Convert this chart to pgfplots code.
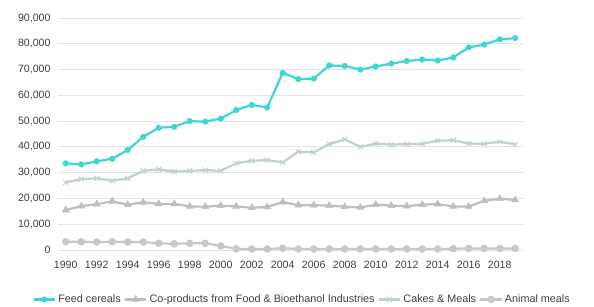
\documentclass[border=0pt]{standalone}
\usepackage{pgfplots}
\pgfplotsset{compat=1.18}
\usepackage{fontspec}
\setmainfont{Liberation Sans}
\definecolor{feed}{HTML}{40D6D2}
\definecolor{coprod}{HTML}{BFBFBF}
\definecolor{cakes}{HTML}{BFD2CE}
\definecolor{animal}{HTML}{C8C8C8}
\definecolor{gridc}{HTML}{E3E3E3}
\definecolor{txt}{HTML}{404040}
\begin{document}
\begin{tikzpicture}
\useasboundingbox (0,0) rectangle (594pt,306pt);
\begin{axis}[
  at={(58pt,56pt)}, anchor=south west,
  scale only axis, width=465pt, height=232pt,
  xmin=1989.5, xmax=2019.5, ymin=0, ymax=90000,
  xtick={1990,1992,...,2018},
  ytick={0,10000,...,90000},
  x tick label style={/pgf/number format/1000 sep={}},
  y tick label style={/pgf/number format/1000 sep={,}},
  /pgf/number format/assume math mode=true,
  scaled y ticks=false,
  ymajorgrids, grid style={gridc, line width=1pt},
  axis line style={draw=none},
  tick style={draw=none},
  tick label style={font=\fontsize{10.6}{13}\selectfont, text=txt},
  yticklabel style={xshift=-4pt},
  xticklabel style={yshift=-8pt},
  legend style={at={(0.525,-0.175)}, anchor=north, draw=none, fill=none,
    font=\fontsize{10.8}{13}\selectfont, text=txt, legend columns=4,
    /tikz/every even column/.append style={column sep=1pt}},
  legend image code/.code={
    \draw[mark repeat=2,mark phase=2] plot coordinates {(0cm,0cm) (0.38cm,0cm) (0.76cm,0cm)};},
]
\addplot[feed, line width=2.2pt, mark=*, mark size=2.8pt, mark options={line width=0.5pt}] coordinates {
(1990,33600)(1991,33200)(1992,34400)(1993,35400)(1994,38800)(1995,43900)
(1996,47400)(1997,47800)(1998,50000)(1999,49800)(2000,51000)(2001,54300)
(2002,56300)(2003,55300)(2004,68700)(2005,66300)(2006,66500)(2007,71600)
(2008,71400)(2009,70000)(2010,71200)(2011,72300)(2012,73300)(2013,73900)
(2014,73500)(2015,74700)(2016,78600)(2017,79700)(2018,81700)(2019,82200)};
\addlegendentry{Feed cereals}
\addplot[coprod, line width=2.2pt, mark=triangle*, mark size=4pt, mark options={line width=0.5pt}] coordinates {
(1990,15500)(1991,17000)(1992,17800)(1993,18900)(1994,17600)(1995,18500)
(1996,17900)(1997,17900)(1998,16900)(1999,16800)(2000,17200)(2001,16900)
(2002,16400)(2003,16700)(2004,18600)(2005,17400)(2006,17400)(2007,17200)
(2008,16800)(2009,16500)(2010,17600)(2011,17200)(2012,17000)(2013,17600)
(2014,17800)(2015,16900)(2016,16900)(2017,19100)(2018,19900)(2019,19400)};
\addlegendentry{Co-products from Food \& Bioethanol Industries}
\addplot[cakes, line width=2.2pt, mark=x, mark size=3.5pt, mark options={line width=1pt}] coordinates {
(1990,26200)(1991,27500)(1992,27800)(1993,26900)(1994,27800)(1995,30700)
(1996,31300)(1997,30400)(1998,30700)(1999,31000)(2000,30700)(2001,33600)
(2002,34600)(2003,34900)(2004,34000)(2005,38100)(2006,37900)(2007,41100)
(2008,42900)(2009,40000)(2010,41300)(2011,40900)(2012,41100)(2013,41200)
(2014,42400)(2015,42600)(2016,41300)(2017,41200)(2018,42000)(2019,41000)};
\addlegendentry{Cakes \& Meals}
\addplot[animal, line width=2.2pt, mark=*, mark size=3.5pt, mark options={line width=0.5pt}] coordinates {
(1990,3200)(1991,3200)(1992,3100)(1993,3200)(1994,3100)(1995,3100)
(1996,2600)(1997,2400)(1998,2600)(1999,2600)(2000,1600)(2001,400)
(2002,400)(2003,400)(2004,700)(2005,400)(2006,400)(2007,400)
(2008,400)(2009,400)(2010,400)(2011,400)(2012,400)(2013,400)
(2014,400)(2015,500)(2016,600)(2017,600)(2018,600)(2019,600)};
\addlegendentry{Animal meals}
\end{axis}
\end{tikzpicture}
\end{document}
